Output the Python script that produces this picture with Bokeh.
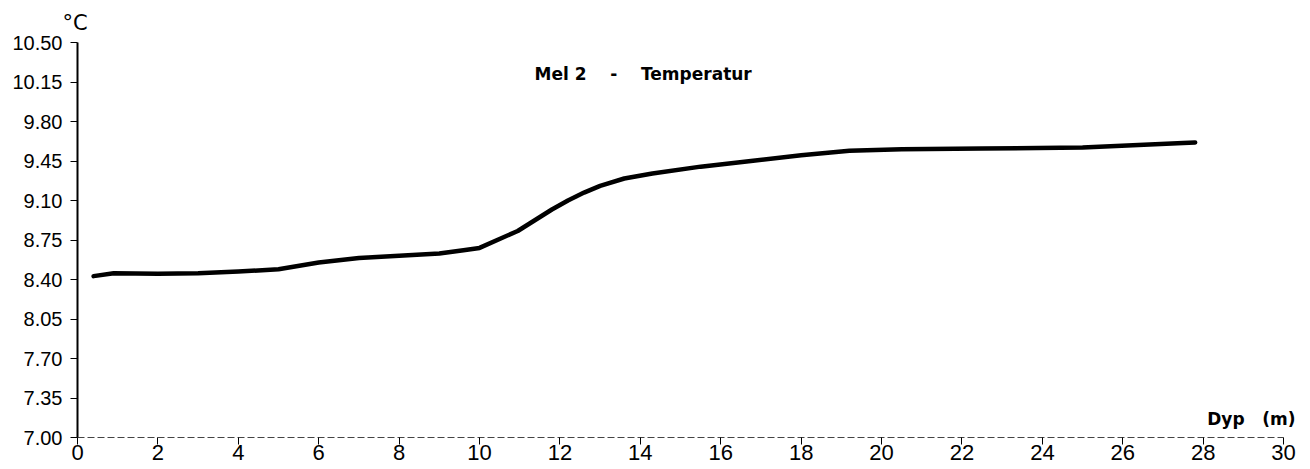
from bokeh.plotting import figure
from bokeh.models import Range1d, FixedTicker, Label, NumeralTickFormatter, Title
from bokeh.embed import file_html
from bokeh.resources import INLINE

# Data
depth = [0.4, 0.9, 2.0, 3.0, 4.0, 5.0, 6.0, 7.0, 8.0, 9.0, 9.6, 10.0, 10.95, 11.8,
         12.2, 12.6, 13.0, 13.6, 14.3, 15.5, 16.75, 18.0, 19.2, 20.5, 22.5, 25.0, 27.5, 27.8]
temp = [8.43, 8.455, 8.45, 8.455, 8.47, 8.49, 8.55, 8.59, 8.61, 8.63, 8.66, 8.68, 8.83, 9.02,
        9.10, 9.17, 9.23, 9.295, 9.34, 9.40, 9.45, 9.50, 9.54, 9.555, 9.56, 9.57, 9.61, 9.615]
y_ticks = [7.00, 7.35, 7.70, 8.05, 8.40, 8.75, 9.10, 9.45, 9.80, 10.15, 10.50]
x_ticks = [0, 2, 4, 6, 8, 10, 12, 14, 16, 18, 20, 22, 24, 26, 28, 30]
NB = "\u00a0"
title_text = "Mel 2" + NB * 4 + "-" + NB * 4 + "Temperatur"
y_unit = "°C"
x_unit = "Dyp" + NB * 3 + "(m)"

FONT = "Liberation Sans"
WIDE = "DejaVu Sans"

# frame spans a bit past 30 so the "Dyp (m)" label is not clipped; axis bounded to 0..30
p = figure(width=1310, height=469, output_backend="svg", toolbar_location=None,
           x_range=Range1d(0, 30.47), y_range=Range1d(7.0, 10.5),
           min_border_left=77, min_border_right=8, min_border_top=42, min_border_bottom=32)
p.outline_line_color = None
p.grid.visible = False
p.background_fill_color = "white"
p.border_fill_color = "white"

p.line(depth, temp, line_color="black", line_width=4.5, line_join="round", line_cap="round")

p.yaxis.ticker = FixedTicker(ticks=y_ticks)
p.yaxis.formatter = NumeralTickFormatter(format="0.00")
p.xaxis.ticker = FixedTicker(ticks=x_ticks)
p.xaxis.bounds = (0, 30)

for ax in (p.xaxis[0], p.yaxis[0]):
    ax.major_label_text_font = FONT
    ax.major_label_text_color = "black"
    ax.minor_tick_line_color = None
    ax.major_tick_line_color = "black"
    ax.major_tick_in = 0
    ax.major_tick_out = 7
    ax.axis_line_color = "black"

p.yaxis.major_label_text_font_size = "20px"
p.yaxis.axis_line_width = 2
p.yaxis.major_label_standoff = 8
p.xaxis.major_label_text_font_size = "22px"
p.xaxis.axis_line_width = 1
p.xaxis.axis_line_color = "#444444"
p.xaxis.axis_line_dash = "7 3"
p.xaxis.major_label_standoff = 0

p.add_layout(Label(x=14.07, y=10.217, text=title_text, text_font=WIDE, text_font_size="17px",
                   text_font_style="bold", text_align="center", text_baseline="middle",
                   text_color="black"))
p.add_layout(Label(x=28.1, y=7.16, text=x_unit, text_font=WIDE, text_font_size="17px",
                   text_font_style="bold", text_align="left", text_baseline="alphabetic",
                   text_color="black"))
p.add_layout(Title(text=y_unit, align="left", offset=-15, text_font=WIDE, text_font_size="21px",
                   text_font_style="normal", text_color="black", standoff=16), "above")

open("out.html", "w").write(file_html(p, INLINE))
